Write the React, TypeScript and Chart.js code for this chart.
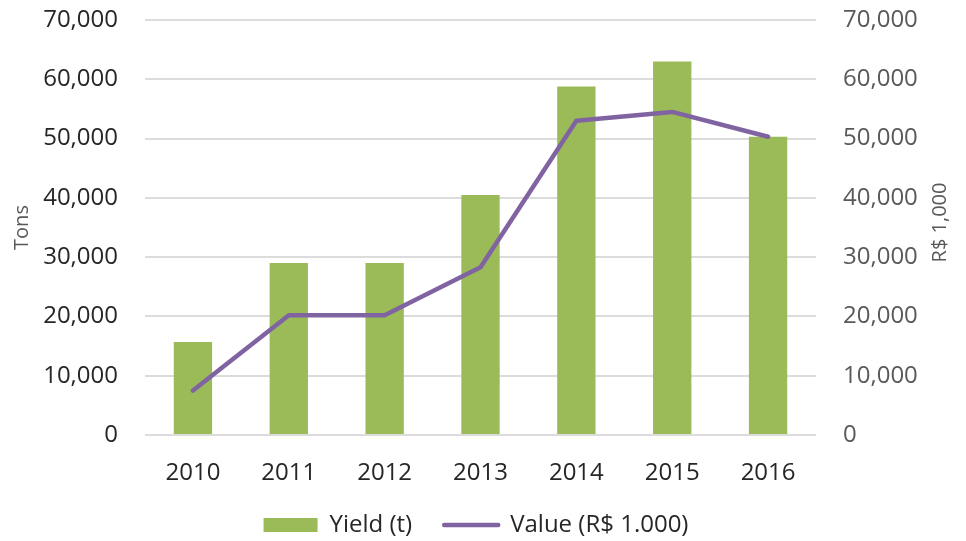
import React, { useEffect, useRef } from "react";
import { Chart, registerables } from "chart.js";

Chart.register(...registerables);

const YEARS = ["2010", "2011", "2012", "2013", "2014", "2015", "2016"];
const YIELD_T = [15700, 29000, 29000, 40500, 58800, 63000, 50300];
const VALUE_RS = [7500, 20200, 20200, 28300, 53000, 54500, 50300];
const YIELD_LABEL = "Yield (t)";
const VALUE_LABEL = "Value (R$ 1.000)";
const LEFT_TITLE = "Tons";
const RIGHT_TITLE = "R$ 1,000";

const FONT = '"Open Sans", sans-serif';
const GREEN = "#9BBB59";
const PURPLE = "#8064A2";
const CANVAS_H = 547;

const fmt = (v: number) => Number(v).toLocaleString("en-US");

const rightTitlePlugin = {
  id: "rightTitle",
  afterDraw(chart: any) {
    const { ctx, chartArea } = chart;
    const s = chart.scales.y1;
    ctx.save();
    ctx.translate(s.right - 12, (chartArea.top + chartArea.bottom) / 2 - 5);
    ctx.rotate(-Math.PI / 2);
    ctx.font = `20px ${FONT}`;
    ctx.fillStyle = "#595959";
    ctx.textAlign = "center";
    ctx.textBaseline = "middle";
    ctx.fillText(RIGHT_TITLE, 0, 0);
    ctx.restore();
  },
};

export default function App() {
  const ref = useRef<HTMLCanvasElement | null>(null);

  useEffect(() => {
    if (!ref.current) return;
    const chart = new Chart(ref.current, {
      type: "bar",
      data: {
        labels: YEARS,
        datasets: [
          {
            type: "bar",
            label: YIELD_LABEL,
            data: YIELD_T,
            backgroundColor: GREEN,
            borderWidth: 0,
            yAxisID: "y",
            order: 1,
            categoryPercentage: 1,
            barPercentage: 0.4,
          } as any,
          {
            type: "line",
            label: VALUE_LABEL,
            data: VALUE_RS,
            borderColor: PURPLE,
            backgroundColor: PURPLE,
            borderWidth: 4.5,
            borderCapStyle: "round",
            borderJoinStyle: "round",
            pointRadius: 0,
            tension: 0,
            yAxisID: "y1",
            order: 0,
          } as any,
        ],
      },
      options: {
        animation: false,
        responsive: true,
        maintainAspectRatio: false,
        layout: { padding: { top: 20, left: 0, right: 14, bottom: 0 } },
        plugins: {
          tooltip: { enabled: false },
          legend: {
            position: "bottom",
            labels: {
              usePointStyle: true,
              pointStyleWidth: 54,
              boxHeight: 14,
              padding: 32,
              color: "#262626",
              font: { family: FONT, size: 24 },
              generateLabels: () => [
                {
                  text: YIELD_LABEL,
                  fillStyle: GREEN,
                  strokeStyle: GREEN,
                  lineWidth: 0,
                  pointStyle: "rect",
                  datasetIndex: 0,
                  hidden: false,
                  fontColor: "#262626",
                },
                {
                  text: VALUE_LABEL,
                  fillStyle: PURPLE,
                  strokeStyle: PURPLE,
                  lineWidth: 4.5,
                  lineCap: "round",
                  pointStyle: "line",
                  datasetIndex: 1,
                  hidden: false,
                  fontColor: "#262626",
                },
              ] as any,
            },
          },
        },
        scales: {
          x: {
            offset: true,
            grid: { display: false },
            border: { display: false },
            ticks: {
              color: "#262626",
              font: { family: FONT, size: 24 },
              padding: 16,
            },
            afterFit: (s: any) => {
              s.height = 46;
            },
          },
          y: {
            position: "left",
            min: 0,
            max: 70000,
            border: { display: false },
            grid: {
              color: "#dcdcdc",
              lineWidth: 2,
              drawTicks: true,
              tickLength: 27,
              tickColor: "rgba(0,0,0,0)",
            },
            ticks: {
              stepSize: 10000,
              color: "#262626",
              font: { family: FONT, size: 24 },
              padding: 0,
              callback: (v: any) => fmt(v),
            },
            title: {
              display: true,
              text: LEFT_TITLE,
              color: "#595959",
              font: { family: FONT, size: 20 },
              padding: { top: 10, bottom: 0 },
            },
            afterFit: (s: any) => {
              s.width = 145;
            },
          },
          y1: {
            position: "right",
            min: 0,
            max: 70000,
            border: { display: false },
            grid: {
              drawOnChartArea: false,
              drawTicks: true,
              tickLength: 27,
              tickColor: "rgba(0,0,0,0)",
            },
            ticks: {
              stepSize: 10000,
              color: "#595959",
              font: { family: FONT, size: 24 },
              padding: 0,
              callback: (v: any) => fmt(v),
            },
            afterFit: (s: any) => {
              s.width = 136;
            },
          },
        },
      },
      plugins: [rightTitlePlugin],
    } as any);
    return () => chart.destroy();
  }, []);

  return (
    <div
      style={{
        position: "fixed",
        left: 0,
        top: 0,
        width: 966,
        height: 541,
        overflow: "hidden",
        background: "#fff",
      }}
    >
      <div style={{ position: "relative", width: 966, height: CANVAS_H }}>
        <canvas ref={ref} />
      </div>
    </div>
  );
}
